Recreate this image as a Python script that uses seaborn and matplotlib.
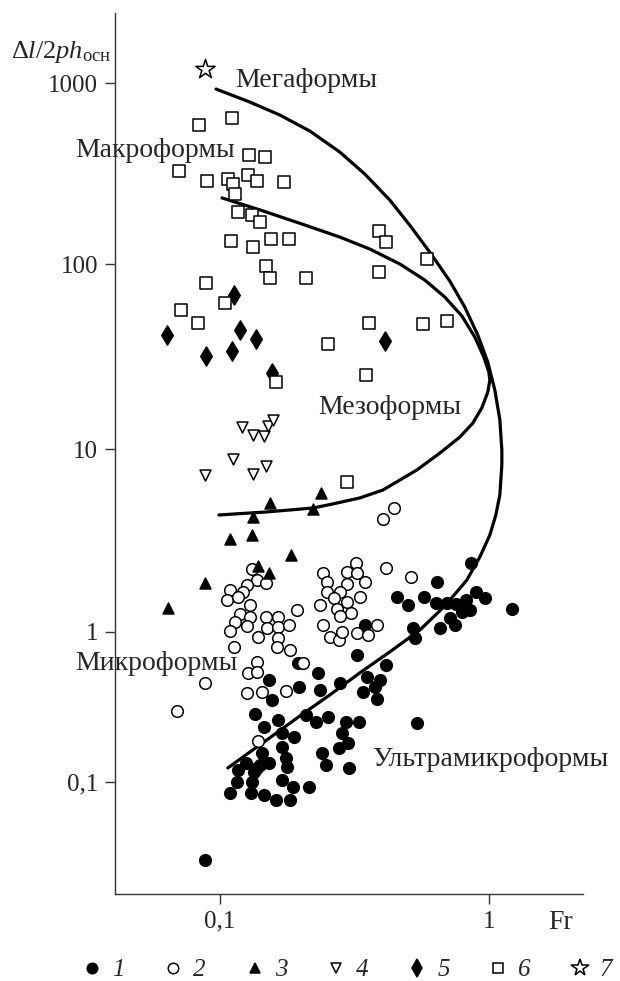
import numpy as np
import pandas as pd
import matplotlib
matplotlib.use('Agg')
import matplotlib.pyplot as plt
import seaborn as sns
from matplotlib.lines import Line2D

# 1 - filled circles
fr_1 = [0.195, 0.323, 0.455, 0.500, 0.346, 0.522, 0.531, 0.231, 0.235, 0.279, 0.414, 0.197,
        0.152, 0.156, 0.352, 0.393, 0.340, 0.377, 0.383, 0.540, 0.135, 0.146, 0.109, 0.116,
        0.130, 0.1315, 0.146, 0.162, 0.182, 0.170, 0.187, 0.214, 0.141, 0.134, 0.117, 0.125,
        0.152, 0.170, 0.176, 0.1775, 0.239, 0.248, 0.277, 0.299, 0.302, 0.284, 0.329, 0.294,
        0.252, 0.2275, 0.209, 0.164, 0.188, 0.170, 0.143, 0.137, 0.088,
        0.573, 0.635, 0.698, 0.754, 0.821, 0.895, 0.966, 0.716, 0.658, 0.747, 0.794, 0.85,
        0.641, 1.22, 0.857]
ratio_1 = [0.621, 0.702, 1.55, 1.405, 1.09, 1.05, 0.912, 0.533, 0.411, 0.457, 0.603, 0.430,
           0.479, 0.352, 0.501, 0.479, 0.398, 0.430, 0.358, 0.247, 0.284, 0.233, 0.0845, 0.100,
           0.0845, 0.100, 0.082, 0.0759, 0.0759, 0.103, 0.0926, 0.0926, 0.130, 0.117, 0.120, 0.134,
           0.134, 0.171, 0.144, 0.126, 0.156, 0.130, 0.169, 0.182, 0.124, 0.212, 0.251, 0.251,
           0.271, 0.251, 0.280, 0.259, 0.1995, 0.212, 0.156, 0.124, 0.030,
           1.55, 1.44, 1.44, 1.42, 1.50, 1.65, 1.53, 1.19, 1.05, 1.09, 1.29, 1.32,
           1.88, 1.34, 2.38]

# 2 - open circles
fr_2 = [0.1315, 0.137, 0.148, 0.126, 0.109, 0.122, 0.106, 0.117, 0.129, 0.119, 0.129, 0.114,
        0.126, 0.109, 0.148, 0.164, 0.150, 0.164, 0.181, 0.1385, 0.164, 0.163, 0.182, 0.193,
        0.113, 0.137, 0.127, 0.137, 0.126, 0.143, 0.176, 0.2035, 0.088, 0.069, 0.1385,
        0.241, 0.250, 0.296, 0.321, 0.323, 0.346, 0.296, 0.250, 0.279, 0.265, 0.296, 0.235,
        0.272, 0.307, 0.279, 0.331, 0.241, 0.256, 0.277, 0.284, 0.323, 0.355, 0.383, 0.414,
        0.513, 0.404, 0.443]
ratio_2 = [2.21, 1.92, 1.85, 1.81, 1.70, 1.65, 1.50, 1.55, 1.40, 1.25, 1.21, 1.13,
           1.08, 1.01, 1.21, 1.21, 1.05, 1.065, 1.09, 0.926, 0.912, 0.794, 0.759, 1.32,
           0.794, 0.631, 0.533, 0.541, 0.392, 0.398, 0.405, 0.621, 0.457, 0.298, 0.188,
           2.10, 1.88, 2.13, 2.38, 2.10, 1.88, 1.83, 1.65, 1.65, 1.53, 1.46, 1.40,
           1.34, 1.27, 1.22, 1.55, 1.09, 0.926, 0.884, 1.0, 0.985, 0.955, 1.09, 2.24,
           2.00, 4.14, 4.76]

# 3 - filled triangles
fr_3 = [0.1534, 0.1327, 0.2374, 0.2217, 0.1089, 0.1315, 0.1836, 0.1385, 0.152, 0.0879, 0.0641]
ratio_3 = [5.07, 4.25, 5.75, 4.70, 3.22, 3.39, 2.64, 2.30, 2.10, 1.85, 1.35]

# 4 - open inverted triangles
fr_4 = [0.121, 0.133, 0.146, 0.151, 0.157, 0.112, 0.088, 0.133, 0.148]
ratio_4 = [13.1, 11.9, 11.8, 13.3, 14.4, 8.8, 7.2, 7.3, 8.1]

# 5 - filled diamonds
fr_5 = [0.1128, 0.0635, 0.1187, 0.136, 0.0887, 0.1109, 0.156, 0.410]
ratio_5 = [68, 41.3, 44, 39.3, 31.8, 33.9, 25.8, 38.4]

# 6 - open squares
fr_6 = [0.0835, 0.111, 0.128, 0.147, 0.0704, 0.0895, 0.107, 0.112, 0.127, 0.137, 0.173, 0.114,
        0.117, 0.132, 0.141, 0.155, 0.181, 0.110, 0.133, 0.148, 0.153, 0.209, 0.0887, 0.104,
        0.0716, 0.0828, 0.390, 0.414, 0.588, 0.390, 0.252, 0.358, 0.569, 0.698, 0.349, 0.162,
        0.296]
ratio_6 = [590, 640, 400, 390, 327, 287, 295, 277, 310, 287, 284, 244,
           194, 187, 171, 137, 137, 134, 124, 97.5, 84, 84, 79, 61.5,
           56.4, 48, 152, 132, 107, 90.6, 37, 48, 47.4, 49.2, 25.1, 23,
           6.6]

# 7 - open star
fr_7 = [0.088]
ratio_7 = [1200]

# boundary curves
outer_fr = [0.0967, 0.1293, 0.167, 0.216, 0.279, 0.346, 0.428, 0.508, 0.604, 0.716, 0.814,
            0.910, 0.991, 1.053, 1.099, 1.118, 1.118, 1.099, 1.062, 1.009, 0.926, 0.828, 0.686,
            0.554, 0.428, 0.331, 0.256, 0.198, 0.153, 0.129, 0.107]
outer_ratio = [927, 785, 666, 543, 416, 314, 226, 164, 116, 80.9, 58.5,
               41.3, 29.5, 20.8, 14.4, 9.87, 8.18, 5.61, 4.36, 3.39, 2.57, 1.92, 1.387,
               1.025, 0.736, 0.533, 0.380, 0.275, 0.1965, 0.158, 0.124]
meso_fr = [0.1017, 0.141, 0.198, 0.279, 0.361, 0.467, 0.578, 0.686, 0.794, 0.887, 0.958, 1.0,
           1.009, 0.991, 0.942, 0.872, 0.780, 0.658, 0.540, 0.404, 0.331, 0.263, 0.222, 0.1495,
           0.0991]
meso_ratio = [232, 199, 168, 141, 121, 100, 81.9, 66.3, 52.4, 40.3, 31.4, 26.1,
              23.6, 20.3, 16.7, 13.8, 11.6, 9.51, 7.68, 5.97, 5.40, 5.01, 4.76, 4.53,
              4.36]

y_ticks = [0.1, 1, 10, 100, 1000]
y_labels = ['0,1', '1', '10', '100', '1000']
x_ticks = [0.1, 1]
x_labels = ['0,1', '1']

# the source figure has uneven decades on the y axis
LOGK = [-4, -1, 0, 1, 2, 3, 6]
POSK = [-450, 0, 150, 333, 518, 699, 1242]


def fwd(y):
    ly = np.log10(np.clip(np.asarray(y, dtype=float), 1e-9, None))
    return np.interp(ly, LOGK, POSK)


def inv(v):
    return 10 ** np.interp(v, POSK, LOGK)


sns.set_theme(style='white')
plt.rcParams['font.family'] = ['Liberation Serif', 'DejaVu Serif']
plt.rcParams['mathtext.fontset'] = 'custom'
plt.rcParams['mathtext.rm'] = 'Liberation Serif'
plt.rcParams['mathtext.it'] = 'Liberation Serif:italic'

fig = plt.figure(figsize=(6.2, 9.81), dpi=100)
ax = fig.add_axes([0.1855, 0.0887, 0.7548, 0.898])
ax.set_xscale('log')
ax.set_yscale('function', functions=(fwd, inv))

ax.plot(outer_fr, outer_ratio, color='black', lw=2.3, solid_joinstyle='round', zorder=2)
ax.plot(meso_fr, meso_ratio, color='black', lw=2.3, solid_joinstyle='round', zorder=2)

groups = [
    (fr_1, ratio_1, 'o', 'black', 70),
    (fr_2, ratio_2, 'o', 'white', 70),
    (fr_3, ratio_3, '^', 'black', 62),
    (fr_4, ratio_4, 'v', 'white', 62),
    (fr_5, ratio_5, 'd', 'black', 95),
    (fr_6, ratio_6, 's', 'white', 72),
    (fr_7, ratio_7, '*', 'white', 210),
]
for fr, ratio, m, face, s in groups:
    df = pd.DataFrame({'Fr': fr, 'ratio': ratio})
    sns.scatterplot(data=df, x='Fr', y='ratio', marker=m, s=s, color=face,
                    edgecolor='black', linewidth=1.1, ax=ax, zorder=3, legend=False)

ax.set_xlim(0.0407, 2.24)
ax.set_ylim(0.0179, 2438)
ax.set_xticks(x_ticks)
ax.set_xticklabels(x_labels)
ax.set_yticks(y_ticks)
ax.set_yticklabels(y_labels)
ax.minorticks_off()
ax.tick_params(direction='out', length=7, width=1, labelsize=18, pad=5,
               left=True, bottom=True, color='#333333')
ax.set_xlabel('')
ax.set_ylabel('')
for side in ['top', 'right']:
    ax.spines[side].set_visible(False)
for side in ['left', 'bottom']:
    ax.spines[side].set_color('#333333')
    ax.spines[side].set_linewidth(1)


def px(x, y):
    # figure pixel -> axes fraction
    return (x - 115) / 468, (894 - y) / 881


labels = [
    ('Мегаформы', 235, 80),
    ('Макроформы', 75, 150),
    ('Мезоформы', 318, 407),
    ('Микроформы', 75, 663),
    ('Ультрамикроформы', 372, 760),
    ('Fr', 548, 923),
]
for txt, x, y in labels:
    xa, ya = px(x, y)
    ax.text(xa, ya, txt, transform=ax.transAxes, fontsize=20, ha='left', va='center')

xa, ya = px(11, 52)
ax.text(xa, ya, r'$\Delta\mathit{l}/2\mathit{ph}_{\mathrm{осн}}$', transform=ax.transAxes,
        fontsize=19, ha='left', va='center')

handles = []
for fr, ratio, m, face, s in groups:
    handles.append(Line2D([], [], ls='none', marker=m, markersize=np.sqrt(s) * 0.9,
                          markerfacecolor=face, markeredgecolor='black', markeredgewidth=1.1))
leg = fig.legend(handles, [str(i) for i in range(1, 8)], loc='center', ncol=7,
                 bbox_to_anchor=(0.558, 0.011), frameon=False, handletextpad=0.3,
                 columnspacing=1.45, handlelength=1.0, prop={'size': 18, 'style': 'italic'})

fig.savefig('out.png', dpi=100)
